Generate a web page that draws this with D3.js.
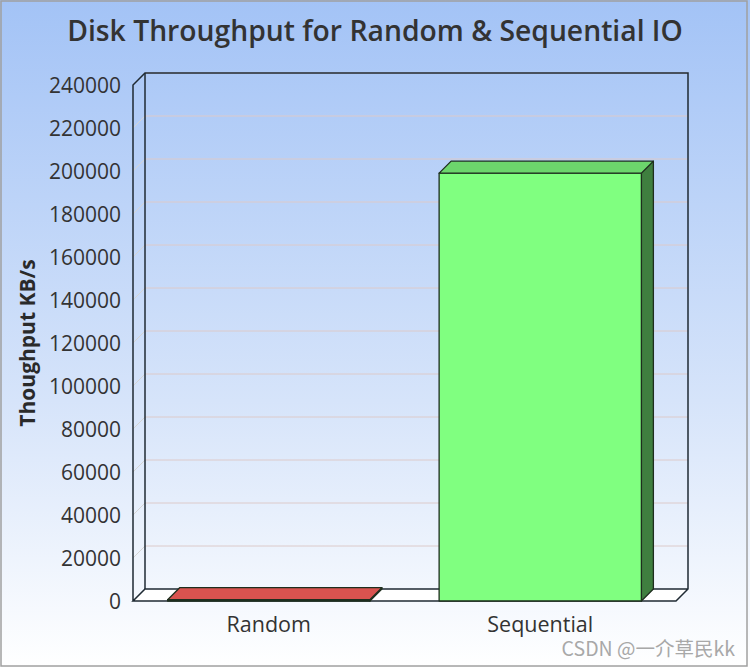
<!DOCTYPE html>
<html>
<head>
<meta charset="utf-8">
<script src="https://cdn.jsdelivr.net/npm/d3@7"></script>
<style>
  html, body { margin: 0; padding: 0; background: #fff; }
  svg { display: block; }
</style>
</head>
<body>
<script>
// Disk throughput data (KB/s)
const categories = ["Random", "Sequential"];
const throughput = [600, 199000];
const barColors = [
  { front: "#ff6a6a", top: "#d9534f", side: "#7f3434" },
  { front: "#80ff80", top: "#6cd66c", side: "#3f7f3f" }
];
const yTicks = [0, 20000, 40000, 60000, 80000, 100000, 120000, 140000, 160000, 180000, 200000, 220000, 240000];
const titleText = "Disk Throughput for Random & Sequential IO";
const yAxisTitle = "Thoughput KB/s";
const watermark = "CSDN @一介草民kk";

const W = 750, H = 668;
const plot = { left: 133, right: 676, top: 85, bottom: 601 };
const depth = { dx: 12, dy: -12 };

const svg = d3.select("body").append("svg")
  .attr("width", W).attr("height", H)
  .style("font-family", "'Open Sans', 'Noto Sans', sans-serif");

// background gradient
const defs = svg.append("defs");
const grad = defs.append("linearGradient").attr("id", "bg")
  .attr("x1", 0).attr("y1", 0).attr("x2", 0).attr("y2", 1);
grad.append("stop").attr("offset", "0%").attr("stop-color", "#a3c3f6");
grad.append("stop").attr("offset", "60%").attr("stop-color", "#d6e4fa");
grad.append("stop").attr("offset", "100%").attr("stop-color", "#ffffff");
svg.append("rect").attr("x", 0).attr("y", 0).attr("width", W).attr("height", H)
  .attr("fill", "url(#bg)");
svg.append("rect").attr("x", 1).attr("y", 1).attr("width", W - 4).attr("height", H - 3)
  .attr("fill", "none").attr("stroke", "#a0a0a0").attr("stroke-width", 1.5);

const y = d3.scaleLinear().domain([0, 240000]).range([plot.bottom, plot.top]);
const x = d3.scaleBand().domain(categories).range([plot.left, plot.right]).padding(0);
const barFrac = 0.745;

const dx = depth.dx, dy = depth.dy;

// floor
svg.append("path")
  .attr("d", `M${plot.left},${plot.bottom} L${plot.left + dx},${plot.bottom + dy} L${plot.right + dx},${plot.bottom + dy} L${plot.right},${plot.bottom} Z`)
  .attr("fill", "#ffffff");

// gridlines on the back wall and the left side wall
const grid = svg.append("g");
yTicks.forEach(t => {
  if (t === 0) return;
  const yy = y(t);
  grid.append("line")
    .attr("x1", plot.left + dx).attr("x2", plot.right + dx)
    .attr("y1", yy + dy).attr("y2", yy + dy)
    .attr("stroke", "#dccaca").attr("stroke-width", 1);
  grid.append("line")
    .attr("x1", plot.left).attr("x2", plot.left + dx)
    .attr("y1", yy).attr("y2", yy + dy)
    .attr("stroke", "#d4d4d4").attr("stroke-width", 1);
});

// frame
const frame = svg.append("g").attr("fill", "none").attr("stroke", "#1f2a33").attr("stroke-width", 1.5);
frame.append("path")
  .attr("d", `M${plot.left},${plot.bottom} L${plot.left},${y(240000)} L${plot.left + dx},${y(240000) + dy} L${plot.right + dx},${y(240000) + dy} L${plot.right + dx},${plot.bottom + dy} L${plot.right},${plot.bottom} L${plot.left},${plot.bottom} L${plot.left + dx},${plot.bottom + dy} L${plot.right + dx},${plot.bottom + dy}`);
frame.append("line")
  .attr("x1", plot.left + dx).attr("x2", plot.left + dx)
  .attr("y1", y(240000) + dy).attr("y2", plot.bottom + dy);

// bars
const bars = svg.append("g").attr("stroke", "#1e2e1e").attr("stroke-width", 1.3).attr("stroke-linejoin", "round");
categories.forEach((c, i) => {
  const bw = x.bandwidth() * barFrac;
  const x0 = x(c) + (x.bandwidth() - bw) / 2;
  const x1 = x0 + bw;
  const yTop = y(throughput[i]);
  const yBot = y(0);
  const col = barColors[i];
  // side
  bars.append("path")
    .attr("d", `M${x1},${yBot} L${x1 + dx},${yBot + dy} L${x1 + dx},${yTop + dy} L${x1},${yTop} Z`)
    .attr("fill", col.side);
  // front
  bars.append("rect")
    .attr("x", x0).attr("y", yTop).attr("width", bw).attr("height", yBot - yTop)
    .attr("fill", col.front);
  // top
  bars.append("path")
    .attr("d", `M${x0},${yTop} L${x0 + dx},${yTop + dy} L${x1 + dx},${yTop + dy} L${x1},${yTop} Z`)
    .attr("fill", col.top);
});

// y tick labels
svg.append("g").selectAll("text").data(yTicks).join("text")
  .attr("x", 121).attr("y", d => y(d))
  .attr("dy", "0.36em")
  .attr("text-anchor", "end")
  .attr("font-size", 21)
  .attr("fill", "#333")
  .text(d => d);

// category labels
svg.append("g").selectAll("text").data(categories).join("text")
  .attr("x", d => x(d) + x.bandwidth() / 2).attr("y", 632)
  .attr("text-anchor", "middle")
  .attr("font-size", 21.5)
  .attr("fill", "#333")
  .text(d => d);

// title
svg.append("text")
  .attr("x", 375).attr("y", 41)
  .attr("text-anchor", "middle")
  .attr("font-size", 28.3).attr("font-weight", 600)
  .attr("fill", "#333")
  .text(titleText);

// y axis title
svg.append("text")
  .attr("transform", "translate(35,343) rotate(-90)")
  .attr("text-anchor", "middle")
  .attr("font-size", 21).attr("font-weight", 700)
  .attr("fill", "#2a2a2a")
  .text(yAxisTitle);

// watermark
svg.append("text")
  .attr("x", 735).attr("y", 656)
  .attr("text-anchor", "end")
  .attr("font-family", "'Noto Sans CJK SC', sans-serif")
  .attr("font-size", 19.5)
  .attr("fill", "#a8a8a8")
  .text(watermark);
</script>
</body>
</html>
